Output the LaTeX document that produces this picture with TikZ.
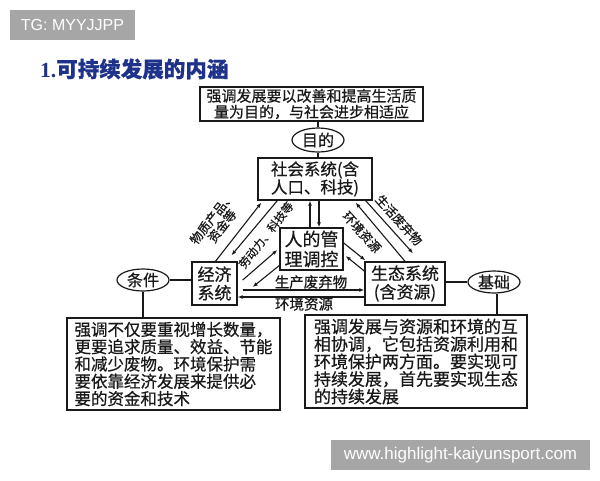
\documentclass[tikz,border=0pt]{standalone}
\usepackage{fontspec}
\setmainfont{Noto Sans CJK SC}[FakeBold=0.6]
\newfontfamily\latinsans{Liberation Sans}
\newfontfamily\latinserif{Liberation Serif}
\usetikzlibrary{arrows.meta,shapes.geometric}
\definecolor{badge}{RGB}{166,166,166}
\definecolor{titleblue}{RGB}{30,50,140}
\definecolor{ink}{RGB}{25,25,25}
\begin{document}
\begin{tikzpicture}[x=1pt,y=-1pt,
  box/.style={draw=ink, line width=1.4pt, inner sep=0pt, align=center, text=ink},
  oval/.style={ellipse, draw=ink, line width=1.2pt, inner sep=0pt, text=ink},
  link/.style={draw=ink, line width=1.1pt},
  arr/.style={link, -{Latex[length=5pt,width=4pt]}},
  lab/.style={inner sep=0pt, text=ink, font=\fontsize{12.5pt}{13pt}\selectfont, align=center},
  wm/.style={fill=badge, inner sep=0pt, text=white}
]
\useasboundingbox (0,0) rectangle (600,480);
\fill[white] (0,0) rectangle (600,480);

% badges
\node[wm, minimum width=125pt, minimum height=30pt, font=\latinsans\fontsize{16pt}{18pt}\selectfont] (tg) at (72.5,25) {TG: MYYJJPP};
\node[wm, minimum width=259pt, minimum height=30pt, font=\latinsans\fontsize{17pt}{19pt}\selectfont] (web) at (460.5,455) {www.highlight-kaiyunsport.com};

% title
\node[anchor=west, inner sep=0pt, text=titleblue, font=\bfseries\fontsize{21.5pt}{24pt}\selectfont] (title) at (40,69) {{\latinserif\bfseries 1.}可持续发展的内涵};

% main boxes
\node[box, minimum width=223pt, minimum height=34pt, font=\fontsize{15pt}{16pt}\selectfont] (top) at (311.5,104) {强调发展要以改善和提高生活质\\量为目的，与社会进步相适应};
\node[oval, minimum width=52pt, minimum height=24pt, font=\fontsize{16pt}{18pt}\selectfont] (mudi) at (318,140) {目的};
\node[box, minimum width=114pt, minimum height=42pt, font=\fontsize{16.5pt}{18pt}\selectfont] (soc) at (315,179) {社会系统(含\\人口、科技)};
\node[box, minimum width=63pt, minimum height=42pt, font=\fontsize{18pt}{20pt}\selectfont] (mgmt) at (311.5,249) {人的管\\理调控};
\node[box, minimum width=45pt, minimum height=43pt, font=\fontsize{17pt}{18.5pt}\selectfont] (econ) at (214.5,283.5) {经济\\系统};
\node[box, minimum width=80pt, minimum height=43pt, font=\fontsize{17pt}{18.5pt}\selectfont] (eco) at (405,283.5) {生态系统\\(含资源)};
\node[oval, minimum width=52pt, minimum height=22pt, font=\fontsize{16pt}{18pt}\selectfont] (tiao) at (143,280) {条件};
\node[oval, minimum width=52pt, minimum height=22pt, font=\fontsize{16pt}{18pt}\selectfont] (jichu) at (494,282) {基础};
\node[box, align=left, minimum width=213pt, minimum height=92pt, line width=1.6pt, font=\fontsize{16.5pt}{17.3pt}\selectfont] (lbox) at (173.5,364) {强调不仅要重视增长数量，\\更要追求质量、效益、节能\\和减少废物。环境保护需\\要依靠经济发展来提供必\\要的资金和技术};
\node[box, align=left, minimum width=222pt, minimum height=93pt, line width=1.6pt, font=\fontsize{17pt}{17.5pt}\selectfont] (rbox) at (416,361.5) {强调发展与资源和环境的互\\相协调，它包括资源利用和\\环境保护两方面。要实现可\\持续发展，首先要实现生态\\的持续发展};

% plain links
\draw[link] (top.south -| mudi.north) -- (mudi.north);
\draw[link] (mudi.south) -- (mudi.south |- soc.north);
\draw[link] (tiao.east) -- (tiao.east -| econ.west);
\draw[link] (eco.east |- jichu.west) -- (jichu.west);
\draw[link] (tiao.south) -- (tiao.south |- lbox.north);
\draw[link] ([xshift=3pt]jichu.south) -- ([xshift=3pt]jichu.south |- rbox.north);

% social <-> management
\draw[arr] ([xshift=-1.5pt]mgmt.north) -- ([xshift=-1.5pt]mgmt.north |- soc.south);
\draw[arr] ([xshift=7.5pt]mgmt.north |- soc.south) -- ([xshift=7.5pt]mgmt.north);

% social <-> economy
\draw[arr] ([xshift=1pt]econ.north) -- ([xshift=4pt,yshift=-2pt]soc.south west);
\draw[arr] ([xshift=20pt]soc.south west) -- ([xshift=17pt,yshift=6pt]econ.north);
\node[lab, rotate=52] (l1) at (217,222) {物质产品、\\资金等};
\node[lab, rotate=52, font=\fontsize{11.5pt}{13pt}\selectfont] (l2) at (266,235) {劳动力、科技等};

% economy <-> management
\draw[arr] ([xshift=5pt,yshift=3.5pt]econ.east) -- ([xshift=-2pt,yshift=-1pt]mgmt.west);
\draw[arr] ([xshift=1pt,yshift=6pt]mgmt.south west) -- ([xshift=15pt,yshift=-3.5pt]econ.east);

% management <-> ecology
\draw[arr] ([yshift=6pt]mgmt.east) -- ([xshift=1pt,yshift=1pt]eco.north west);
\draw[arr] ([yshift=12.5pt]eco.west) -- ([xshift=2pt,yshift=-7pt]mgmt.east);

% social <-> ecology
\draw[arr] (eco.north) -- ([xshift=-17pt,yshift=-2pt]soc.south east);
\draw[arr] ([xshift=-7pt]soc.south east) -- ([xshift=8pt,yshift=8pt]eco.north);
\node[lab, rotate=-48] (l3) at (399,220) {生活废弃物};
\node[lab, rotate=-48] (l4) at (362,232) {环境资源};

% economy <-> ecology
\draw[arr] ([xshift=5pt,yshift=-6.5pt]econ.east) -- ([yshift=-6.5pt]econ.east -| eco.west);
\draw[arr] ([yshift=-13.5pt]eco.west) -- ([yshift=-13.5pt]eco.west -| econ.east);
\node[lab, font=\fontsize{14.5pt}{16pt}\selectfont] (l5) at (311,282) {生产废弃物};
\node[lab, font=\fontsize{14.5pt}{16pt}\selectfont] (l6) at (304,304) {环境资源};
\end{tikzpicture}
\end{document}
